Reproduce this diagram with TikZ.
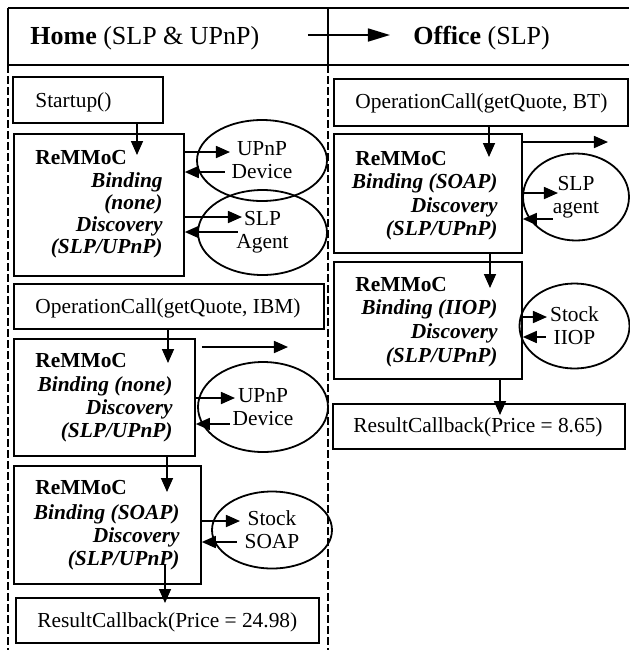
\documentclass[tikz,border=0pt]{standalone}
\usepackage{fontspec}
\setmainfont{Liberation Serif}
\usetikzlibrary{arrows.meta,shapes.geometric,calc}
\newcommand\mybox[5]{\node[box, minimum width=#4*0.5pt, minimum height=#5*0.5pt] (#1) at (#2,#3) {};}
\begin{document}
\begin{tikzpicture}[x=0.5pt,y=-0.5pt,
  box/.style={draw, line width=0.9pt, inner sep=0pt, anchor=north west},
  oval/.style={draw, ellipse, line width=0.9pt, inner sep=0pt, align=center, font=\fontsize{10.7}{11.5}\selectfont},
  lbl/.style={inner sep=0pt, anchor=base west, font=\fontsize{10.7}{12}\selectfont},
  ttl/.style={inner sep=0pt, anchor=base west, font=\fontsize{10.7}{12}\selectfont\bfseries},
  rt/.style={inner sep=0pt, anchor=base east, font=\fontsize{10.7}{12}\selectfont\bfseries\itshape},
  hdr/.style={inner sep=0pt, anchor=base west, font=\fontsize{13}{15}\selectfont},
  frame/.style={line width=1.2pt},
  dashline/.style={line width=0.9pt, dash pattern=on 4pt off 1.5pt},
  arr/.style={line width=0.8pt, -{Triangle[length=7pt,width=6pt]}},
  bigarr/.style={line width=0.8pt, -{Triangle[length=11pt,width=6.5pt]}}
]
\useasboundingbox (0,0) rectangle (629,650);

% header frame
\draw[frame] (8,8) -- (629,8);
\draw[frame] (8,65) -- (629,65);
\draw[frame] (8,8) -- (8,65);
\draw[frame] (328,8) -- (328,65);
\draw[dashline] (8,65) -- (8,650);
\draw[dashline] (328,65) -- (328,650);

\node[hdr] (home) at (30,44) {\textbf{Home} (SLP \& UPnP)};
\node[hdr] (office) at (413,44) {\textbf{Office} (SLP)};
\coordinate (ha) at (308,35);
\coordinate (hb) at (390,35);
\draw[bigarr] (ha) -- (hb);

% ---------------- Home column ----------------
\mybox{s}{12}{76}{150}{46}
\node[lbl] (st) at (35,107) {Startup()};

\mybox{r1}{13}{133}{170}{142}
\node[ttl] (r1t) at (35,164) {ReMMoC};
\node[rt] (r1a) at (163,187) {Binding};
\node[rt] (r1b) at (163,209) {(none)};
\node[rt] (r1c) at (163,231) {Discovery};
\node[rt] (r1d) at (163,253) {(SLP/UPnP)};

\node[oval, minimum width=130*0.5pt, minimum height=81*0.5pt] (e1) at (262,160.5) {UPnP\\Device};
\node[oval, minimum width=129*0.5pt, minimum height=85*0.5pt] (e2) at (262.5,232.5) {SLP\\Agent};

\mybox{oc1}{13}{283}{310}{45}
\node[lbl] (oc1t) at (35,313) {OperationCall(getQuote, IBM)};

\mybox{r2}{13}{338}{181}{117}
\node[ttl] (r2t) at (35,367) {ReMMoC};
\node[rt] (r2a) at (173,391) {Binding (none)};
\node[rt] (r2b) at (173,414) {Discovery};
\node[rt] (r2c) at (173,437) {(SLP/UPnP)};

\node[oval, minimum width=130*0.5pt, minimum height=90*0.5pt] (e3) at (263,407) {UPnP\\Device};

\mybox{r3}{13}{465}{187}{118}
\node[ttl] (r3t) at (35,494) {ReMMoC};
\node[rt] (r3a) at (180,519) {Binding (SOAP)};
\node[rt] (r3b) at (180,542) {Discovery};
\node[rt] (r3c) at (180,565) {(SLP/UPnP)};

\node[oval, minimum width=120*0.5pt, minimum height=77*0.5pt] (e4) at (272,530) {Stock\\SOAP};

\mybox{res1}{15}{597}{303}{45}
\node[lbl] (res1t) at (37,627) {ResultCallback(Price = 24.98)};

% home arrows
\draw[arr] (137,0 |- s.south) -- (137,155);
\draw[arr] (r1.east |- 0,152) -- (230,152);
\draw[arr] (225,172) -- (r1.east |- 0,172);
\draw[arr] (r1.east |- 0,217) -- (242,217);
\draw[arr] (238,232) -- (r1.east |- 0,232);
\draw[arr] (168,0 |- oc1.south) -- (168,363);
\coordinate (fa) at (202,347);
\coordinate (fb) at (288,347);
\draw[arr] (fa) -- (fb);
\draw[arr] (r2.east |- 0,398) -- (235,398);
\draw[arr] (230,424) -- (r2.east |- 0,424);
\draw[arr] (167,0 |- r2.south) -- (167,492);
\draw[arr] (r3.east |- 0,521) -- (240,521);
\draw[arr] (237,542) -- (r3.east |- 0,542);
\draw[arr] (165,0 |- r3c.base) -- (165,603);

% ---------------- Office column ----------------
\mybox{oc2}{333}{78}{294}{47}
\node[lbl] (oc2t) at (355,108) {OperationCall(getQuote, BT)};

\mybox{r4}{333}{133}{188}{119}
\node[ttl] (r4t) at (355,165) {ReMMoC};
\node[rt] (r4a) at (498,188) {Binding (SOAP)};
\node[rt] (r4b) at (498,212) {Discovery};
\node[rt] (r4c) at (498,235) {(SLP/UPnP)};

\node[oval, minimum width=106*0.5pt, minimum height=87*0.5pt] (e5) at (576,197) {SLP\\agent};

\mybox{r5}{333}{261}{188}{117}
\node[ttl] (r5t) at (355,291) {ReMMoC};
\node[rt] (r5a) at (498,314) {Binding (IIOP)};
\node[rt] (r5b) at (498,338) {Discovery};
\node[rt] (r5c) at (498,362) {(SLP/UPnP)};

\node[oval, minimum width=110*0.5pt, minimum height=85*0.5pt] (e6) at (574.5,326) {Stock\\IIOP};

\mybox{res2}{332}{403}{292}{45}
\node[lbl] (res2t) at (353,432) {ResultCallback(Price = 8.65)};

% office arrows
\draw[arr] (489,0 |- oc2.south) -- (489,157);
\coordinate (fc) at (608,142);
\draw[arr] (r4.east |- fc) -- (fc);
\draw[arr] (r4.east |- 0,193) -- (558,193);
\draw[arr] (553,219) -- (r4.east |- 0,219);
\draw[arr] (490,0 |- r4.south) -- (490,288);
\draw[arr] (r5.east |- 0,317) -- (547,317);
\draw[arr] (546,337) -- (r5.east |- 0,337);
\draw[arr] (500,0 |- r5.south) -- (500,415);
\end{tikzpicture}
\end{document}
